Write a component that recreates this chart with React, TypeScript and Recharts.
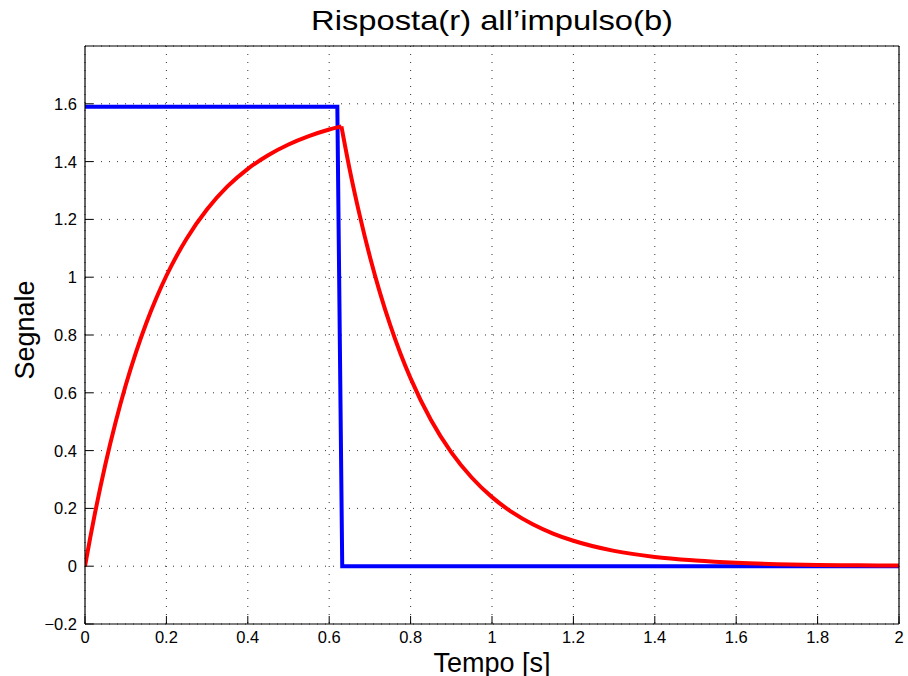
import { LineChart, Line, XAxis, YAxis, CartesianGrid } from 'recharts';

// risposta (rosso): valori, salita e discesa
const salitaT = [0, 0.0125, 0.025, 0.0375, 0.05, 0.075, 0.1, 0.125, 0.15, 0.175, 0.2, 0.25, 0.3, 0.35, 0.4, 0.45, 0.5, 0.55, 0.6, 0.63];
const salitaV = [0, 0.096, 0.187, 0.272, 0.352, 0.497, 0.626, 0.739, 0.839, 0.927, 1.005, 1.134, 1.235, 1.314, 1.375, 1.422, 1.459, 1.488, 1.511, 1.522];
const discesaT = [0.63, 0.65, 0.675, 0.7, 0.725, 0.75, 0.775, 0.8, 0.85, 0.9, 0.95, 1.0, 1.05, 1.1, 1.15, 1.2, 1.3, 1.4, 1.5, 1.6, 1.7, 1.8, 1.9, 2.0];
const discesaV = [1.522, 1.375, 1.214, 1.071, 0.945, 0.834, 0.736, 0.65, 0.506, 0.394, 0.307, 0.239, 0.186, 0.145, 0.113, 0.088, 0.053, 0.032, 0.02, 0.012, 0.007, 0.004, 0.003, 0.002];

// impulso (blu)
const impulsoT = [0, 0.62, 0.632, 2.0];
const impulsoV = [1.59, 1.59, 0, 0];

const xTicks = [0, 0.2, 0.4, 0.6, 0.8, 1, 1.2, 1.4, 1.6, 1.8, 2];
const yTicks = [-0.2, 0, 0.2, 0.4, 0.6, 0.8, 1, 1.2, 1.4, 1.6];

const salita = salitaT.map((t, i) => ({ t, v: salitaV[i] }));
const discesa = discesaT.map((t, i) => ({ t, v: discesaV[i] }));
const impulso = impulsoT.map((t, i) => ({ t, v: impulsoV[i] }));

const FONT = '"Liberation Sans", Arial, Helvetica, sans-serif';

const fmt = (v: number) => {
  if (Math.abs(v) < 1e-9) return '0';
  const s = Number.isInteger(v) ? String(v) : v.toFixed(1);
  return v < 0 ? '\u2212' + s.slice(1) : s;
};

const BottomTick = (props: any) => {
  const { x, y, payload } = props;
  return (
    <g>
      <line x1={x} y1={y} x2={x} y2={y - 8} stroke="#000" />
      <text x={x} y={y + 19} textAnchor="middle" fontSize={16.5} fontFamily={FONT} fill="#000">
        {fmt(payload.value)}
      </text>
    </g>
  );
};

const LeftTick = (props: any) => {
  const { x, y, payload } = props;
  return (
    <g>
      <line x1={x} y1={y} x2={x + 8} y2={y} stroke="#000" />
      <text x={x - 8} y={y + 6} textAnchor="end" fontSize={16.5} fontFamily={FONT} fill="#000">
        {fmt(payload.value)}
      </text>
    </g>
  );
};

const TopTick = (props: any) => {
  const { x, y } = props;
  return <line x1={x} y1={y} x2={x} y2={y + 8} stroke="#000" />;
};

const RightTick = (props: any) => {
  const { x, y } = props;
  return <line x1={x} y1={y} x2={x - 8} y2={y} stroke="#000" />;
};

const App = () => {
  return (
    <div style={{ position: 'absolute', left: 0, top: 0, width: 908, height: 676, background: '#fff' }}>
      <LineChart width={908} height={676} margin={{ top: 45, right: 8, bottom: 0, left: 0 }}>
        <CartesianGrid stroke="#333" strokeDasharray="1 7" />
        <XAxis
          dataKey="t"
          type="number"
          domain={[0, 2]}
          ticks={xTicks}
          height={52}
          axisLine={{ stroke: '#000', strokeWidth: 1.2 }}
          tickLine={false}
          tickSize={0}
          tickMargin={0}
          tick={<BottomTick />}
          allowDataOverflow
        />
        <XAxis
          xAxisId="top"
          dataKey="t"
          type="number"
          orientation="top"
          domain={[0, 2]}
          ticks={xTicks}
          height={1}
          axisLine={{ stroke: '#000', strokeWidth: 1.2 }}
          tickLine={false}
          tickSize={0}
          tickMargin={0}
          tick={<TopTick />}
        />
        <YAxis
          type="number"
          domain={[-0.2, 1.8]}
          ticks={yTicks}
          width={85}
          axisLine={{ stroke: '#000', strokeWidth: 1.2 }}
          tickLine={false}
          tickSize={0}
          tickMargin={0}
          tick={<LeftTick />}
          allowDataOverflow
        />
        <YAxis
          yAxisId="right"
          type="number"
          orientation="right"
          domain={[-0.2, 1.8]}
          ticks={yTicks}
          width={1}
          axisLine={{ stroke: '#000', strokeWidth: 1.2 }}
          tickLine={false}
          tickSize={0}
          tickMargin={0}
          tick={<RightTick />}
        />
        <Line data={impulso} dataKey="v" type="linear" stroke="#0000ff" strokeWidth={4} dot={false} isAnimationActive={false} />
        <Line data={salita} dataKey="v" type="monotone" stroke="#ff0000" strokeWidth={4} dot={false} isAnimationActive={false} />
        <Line data={discesa} dataKey="v" type="monotone" stroke="#ff0000" strokeWidth={4} dot={false} isAnimationActive={false} />
      </LineChart>
      <svg width={908} height={676} style={{ position: 'absolute', left: 0, top: 0, pointerEvents: 'none' }}>
        <text x={492} y={29.5} textAnchor="middle" fontSize={28} fontFamily={FONT} fill="#000" textLength={362} lengthAdjust="spacingAndGlyphs">
          Risposta(r) all’impulso(b)
        </text>
        <text x={492} y={671.5} textAnchor="middle" fontSize={27} fontFamily={FONT} fill="#000">
          Tempo [s]
        </text>
        <text x={34} y={330} textAnchor="middle" fontSize={27} fontFamily={FONT} fill="#000" transform="rotate(-90 34 330)">
          Segnale
        </text>
      </svg>
    </div>
  );
};

export default App;
